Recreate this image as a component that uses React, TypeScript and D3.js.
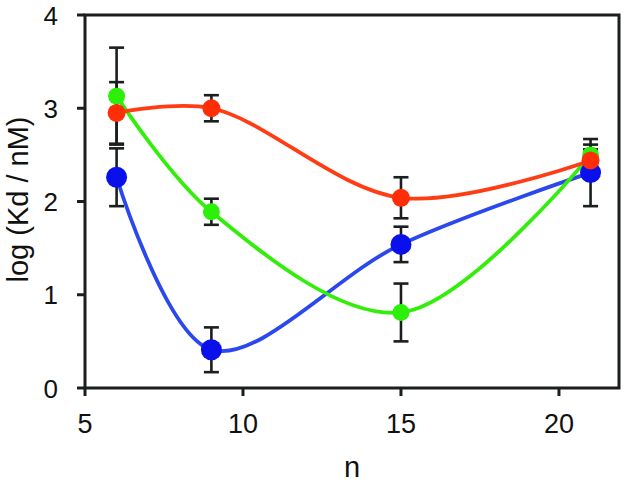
import React from "react";
import * as d3 from "d3";

const nValues = [6, 9, 15, 21];
const blueY = [2.26, 0.41, 1.54, 2.31];
const blueErr = [0.31, 0.24, 0.19, 0.36];
const redY = [2.95, 3.0, 2.04, 2.44];
const redErr = [0.33, 0.14, 0.22, 0.12];
const greenY = [3.13, 1.89, 0.81, 2.5];
const greenErr = [0.52, 0.14, 0.31, 0.11];
const xTicks = [5, 10, 15, 20];
const yTicks = [0, 1, 2, 3, 4];

const W = 624;
const H = 482;
const left = 85;
const right = 619;
const top = 15;
const bottom = 388;

type Series = { name: string; y: number[]; err: number[]; line: string; fill: string; r: number };

const series: Series[] = [
  { name: "blue", y: blueY, err: blueErr, line: "#2a48ee", fill: "#0a10ec", r: 10.5 },
  { name: "green", y: greenY, err: greenErr, line: "#33ee0a", fill: "#2cf00a", r: 8.5 },
  { name: "red", y: redY, err: redErr, line: "#ff3c14", fill: "#ff2e06", r: 9 },
];

export default function App() {
  const x = d3.scaleLinear().domain([5, 21.9]).range([left, right]);
  const y = d3.scaleLinear().domain([0, 4]).range([bottom, top]);
  const line = d3
    .line<[number, number]>()
    .x((d) => x(d[0]))
    .y((d) => y(d[1]))
    .curve(d3.curveCatmullRom.alpha(0.5));
  const font = "'Liberation Sans', Arial, sans-serif";
  const ink = "#1a1e1e";
  return (
    <svg
      width={W}
      height={H}
      style={{ position: "absolute", left: 0, top: 0, background: "#fff" }}
    >
      {/* error bars */}
      {series.map((s) =>
        nValues.map((n, i) => {
          const cx = x(n);
          const y1 = y(s.y[i] + s.err[i]);
          const y2 = y(s.y[i] - s.err[i]);
          return (
            <g key={s.name + i} stroke={ink} strokeWidth={2.6}>
              <line x1={cx} x2={cx} y1={y1} y2={y2} />
              <line x1={cx - 7.5} x2={cx + 7.5} y1={y1} y2={y1} />
              <line x1={cx - 7.5} x2={cx + 7.5} y1={y2} y2={y2} />
            </g>
          );
        })
      )}
      {/* lines */}
      {series.map((s) => (
        <path
          key={s.name}
          d={line(nValues.map((n, i) => [n, s.y[i]] as [number, number])) || ""}
          fill="none"
          stroke={s.line}
          strokeWidth={3.8}
        />
      ))}
      {/* markers */}
      {series.map((s) =>
        nValues.map((n, i) => (
          <circle key={s.name + "m" + i} cx={x(n)} cy={y(s.y[i])} r={s.r} fill={s.fill} />
        ))
      )}
      {/* frame */}
      <rect
        x={left}
        y={top}
        width={right - left}
        height={bottom - top}
        fill="none"
        stroke={ink}
        strokeWidth={3}
      />
      {/* y ticks */}
      {yTicks.map((t) => (
        <g key={"y" + t}>
          <line x1={left - 8} x2={left} y1={y(t)} y2={y(t)} stroke={ink} strokeWidth={3} />
          <text
            x={58}
            y={y(t) + 9.5}
            textAnchor="end"
            fontFamily={font}
            fontSize={26}
            fill="#111"
          >
            {t}
          </text>
        </g>
      ))}
      {/* x ticks */}
      {xTicks.map((t) => (
        <g key={"x" + t}>
          <line x1={x(t)} x2={x(t)} y1={bottom} y2={bottom + 8} stroke={ink} strokeWidth={3} />
          <text
            x={x(t)}
            y={433}
            textAnchor="middle"
            fontFamily={font}
            fontSize={27}
            fill="#111"
          >
            {t}
          </text>
        </g>
      ))}
      <text
        transform={`translate(28,${(top + bottom) / 2 - 2}) rotate(-90)`}
        textAnchor="middle"
        fontFamily={font}
        fontSize={29}
        fill="#111"
      >
        log (Kd / nM)
      </text>
      <text
        x={(left + right) / 2}
        y={477}
        textAnchor="middle"
        fontFamily={font}
        fontSize={29}
        fill="#111"
      >
        n
      </text>
    </svg>
  );
}
